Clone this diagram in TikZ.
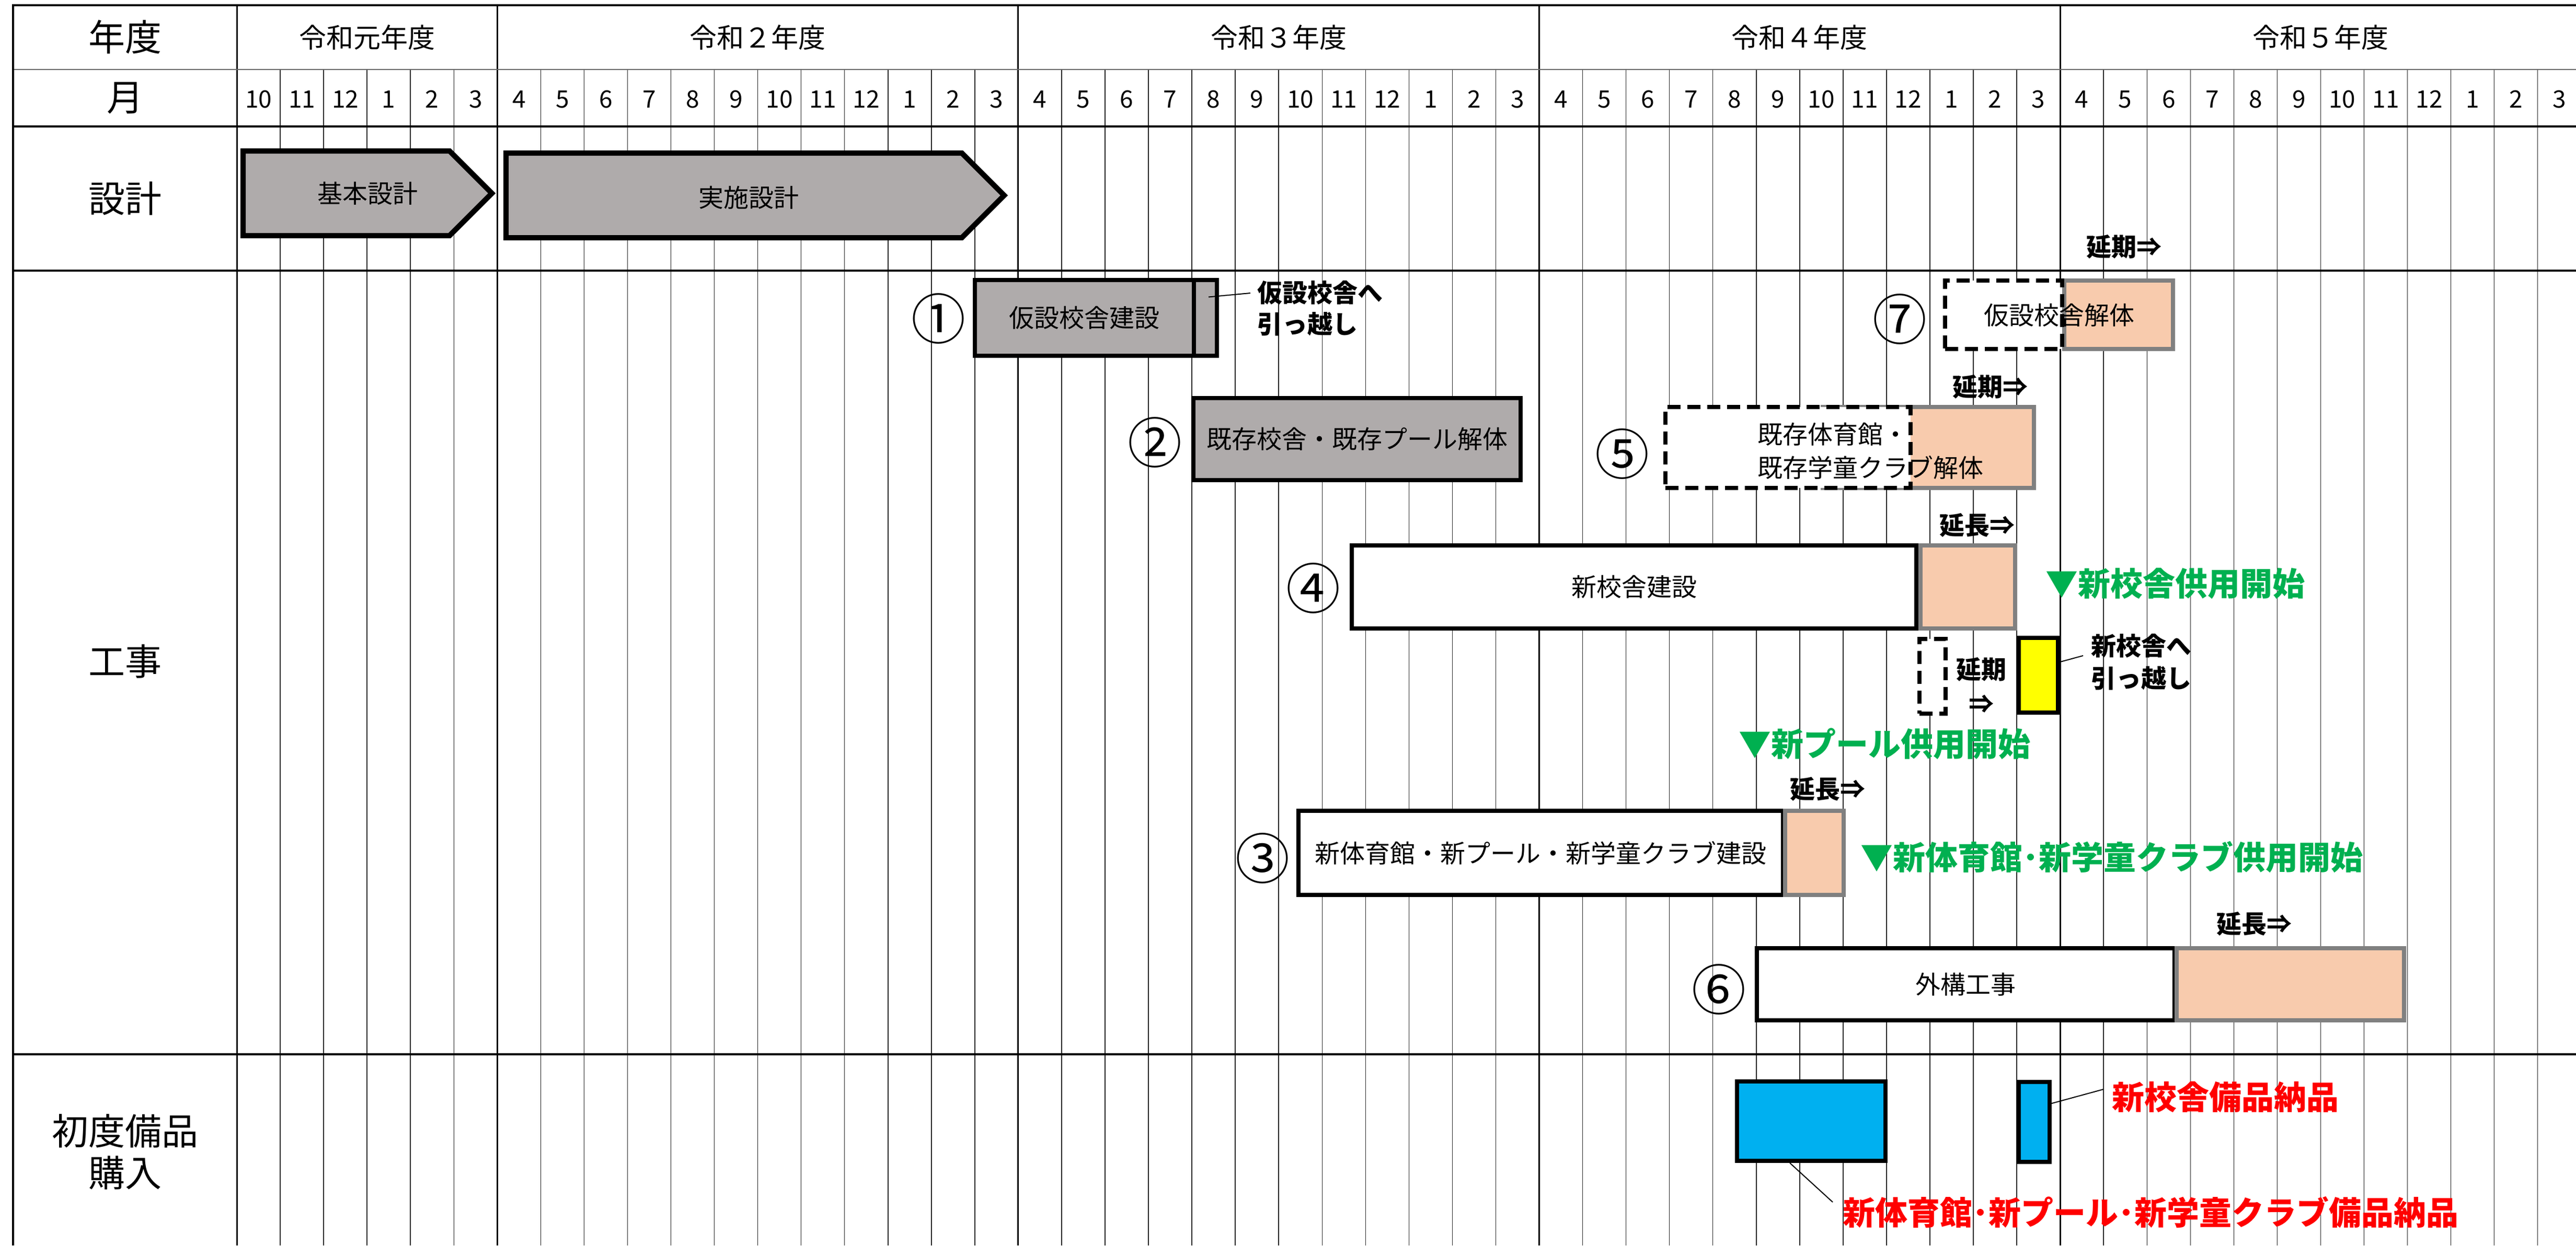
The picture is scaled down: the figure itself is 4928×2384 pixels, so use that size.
\documentclass[tikz,border=0pt]{standalone}
\usepackage{fontspec}
\setmainfont{Noto Sans CJK JP}
\usetikzlibrary{shapes.symbols}
\definecolor{barGray}{RGB}{175,171,171}
\definecolor{extFill}{RGB}{248,203,173}
\definecolor{extEdge}{RGB}{128,128,128}
\definecolor{moveYellow}{RGB}{255,255,0}
\definecolor{buyBlue}{RGB}{0,176,240}
\definecolor{openGreen}{RGB}{0,176,80}
\definecolor{buyRed}{RGB}{255,0,0}
\begin{document}
\begin{tikzpicture}[x=0.5pt,y=-0.5pt,
    frame/.style={line width=2.25pt},
    yearline/.style={line width=1.5pt},
    monthline/.style={line width=0.75pt,black!85},
    head/.style={inner sep=0pt,align=center,font=\fontsize{35}{40}\selectfont},
    yearlbl/.style={inner sep=0pt,font=\fontsize{26}{30}\selectfont},
    mon/.style={inner sep=0pt,font=\fontsize{23}{26}\selectfont},
    plan/.style={signal,signal to=east,draw=black,fill=barGray,line width=5pt,inner sep=0pt},
    bar/.style={draw=black,line width=4pt,inner sep=0pt,font=\fontsize{24}{28}\selectfont},
    ext/.style={draw=extEdge,fill=extFill,line width=4pt,inner sep=0pt},
    later/.style={draw=black,fill=white,line width=4pt,inner sep=0pt,
        dash pattern=on 12.5pt off 6.5pt},
    boxtxt/.style={inner sep=0pt,font=\fontsize{24}{32}\selectfont},
    num/.style={inner sep=0pt,font=\fontsize{52}{56}\selectfont},
    note/.style={inner sep=0pt,font=\fontsize{24}{30}\selectfont\bfseries},
    open/.style={inner sep=0pt,anchor=west,text=openGreen,font=\fontsize{31}{36}\selectfont\bfseries},
    deliv/.style={inner sep=0pt,anchor=west,text=buyRed,font=\fontsize{31}{36}\selectfont\bfseries},
    lead/.style={line width=1pt}]

    \useasboundingbox (0,0) rectangle (4928,2384);
    \clip (0,0) rectangle (4928,2384);

    % grid
    \foreach \i in {1,...,53}
      \draw[monthline] ({453+83.05*\i},133) -- ({453+83.05*\i},2384);
    \foreach \i in {0,6,18,30,42}
      \draw[yearline] ({453+83.05*\i},10) -- ({453+83.05*\i},2384);
    \draw[line width=1pt,black!60] (25,133) -- (4928,133);
    \draw[frame] (25,10) -- (4928,10);
    \draw[frame] (25,242) -- (4928,242);
    \draw[frame] (25,518) -- (4928,518);
    \draw[frame] (25,2018) -- (4928,2018);
    \draw[frame] (25,8) -- (25,2384);

    % the heads
    \node[head] (hYear) at (239,71) {年度};
    \node[head] (hMonth) at (239,188) {月};
    \node[head] (hPlan) at (239,380) {設計};
    \node[head] (hWork) at (239,1266) {工事};
    \node[head] (hBuy) at (239,2205) {初度備品\\購入};

    \foreach \a/\b/\t [count=\k] in {0/6/令和元年度,6/18/令和２年度,18/30/令和３年度,
        30/42/令和４年度,42/54/令和５年度}
      \node[yearlbl] (yr\k) at ({453+83.05*(\a+\b)/2},72) {\t};
    \foreach \m [count=\i from 0] in {10,11,12,1,2,3}
      \node[mon] (mo\i) at ({453+83.05*(\i+0.5)},190) {\m};
    \foreach \y in {0,...,3}
      \foreach \m [count=\i from 0] in {4,5,6,7,8,9,10,11,12,1,2,3}
        \node[mon] (mo\y-\i) at ({453+83.05*(6+12*\y+\i+0.5)},190) {\m};

    % design
    \node[plan,minimum width=238pt,minimum height=81pt] (basic) at (662.5,370) {};
    \node[boxtxt] (basicTxt) at (703,370) {基本設計};
    \node[plan,minimum width=476.5pt,minimum height=81pt] (detail) at (1404,374) {};
    \node[boxtxt] (detailTxt) at (1432,378) {実施設計};

    % works
    \node[bar,fill=barGray,minimum width=209.5pt,minimum height=72.5pt] (tempBuild) at (2074.5,608.5) {仮設校舎建設};
    \node[bar,fill=barGray,minimum width=22pt,minimum height=72.5pt] (tempMove) at (2306,608.5) {};
    \node[num] (n1) at (1795,610) {①};
    \node[note,anchor=west,align=left] (tempMoveNote) at (2405,590) {仮設校舎へ\\引っ越し};
    \draw[lead] ([xshift=3pt,yshift=20pt]tempMove.center) -- ([xshift=-6.5pt,yshift=14.5pt]tempMoveNote.west);

    \node[bar,fill=barGray,minimum width=313pt,minimum height=78.5pt] (oldDemo) at (2596,840) {既存校舎・既存プール解体};
    \node[num] (n2) at (2209,847) {②};

    \node[ext,minimum width=104pt,minimum height=65.5pt] (tempDemoExt) at (4053,602.5) {};
    \node[later,minimum width=112pt,minimum height=65.5pt] (tempDemo) at (3833,602.5) {};
    \node[boxtxt] (tempDemoTxt) at (3939,603) {仮設校舎解体};
    \node[num] (n7) at (3634,611) {⑦};
    \node[note] (delay7) at (4063,472) {延期⇒};

    \node[ext,minimum width=202pt,minimum height=77.5pt] (gymDemoExt) at (3689,856.5) {};
    \node[later,minimum width=234.5pt,minimum height=77.5pt] (gymDemo) at (3420.5,856.5) {};
    \node[boxtxt,anchor=west,align=left] (gymDemoTxt) at (3362,863) {既存体育館・\\既存学童クラブ解体};
    \node[num] (n5) at (3103,869) {⑤};
    \node[note] (delay5) at (3807,740) {延期⇒};

    \node[bar,fill=white,minimum width=540pt,minimum height=79.5pt] (newSchool) at (3126,1123.5) {新校舎建設};
    \node[ext,minimum width=90.5pt,minimum height=79.5pt] (newSchoolExt) at (3764.5,1123.5) {};
    \node[num] (n4) at (2512,1126) {④};
    \node[note] (ext4) at (3782,1005) {延長⇒};
    \node[open] (open4) at (3913,1117) {▼新校舎供用開始};

    \node[later,minimum width=25pt,minimum height=71.5pt] (moveLater) at (3697,1294.5) {};
    \node[note,align=center,font=\fontsize{24}{33}\selectfont\bfseries] (moveDelay) at (3790,1312) {延期\\⇒};
    \node[bar,fill=moveYellow,minimum width=37.5pt,minimum height=71.5pt] (newMove) at (3899.5,1292.5) {};
    \node[note,anchor=west,align=left,font=\fontsize{24}{31}\selectfont\bfseries] (newMoveNote) at (4000,1267) {新校舎へ\\引っ越し};
    \draw[lead] ([yshift=12.75pt]newMove.east) -- ([xshift=-7.5pt,yshift=6pt]newMoveNote.west);

    \node[open] (openPool) at (3326,1424) {▼新プール供用開始};

    \node[bar,fill=white,minimum width=463.5pt,minimum height=80.5pt] (newGym) at (2947.5,1632.5) {新体育館・新プール・新学童クラブ建設};
    \node[ext,minimum width=56pt,minimum height=80.5pt] (newGymExt) at (3471,1632.5) {};
    \node[num] (n3) at (2415,1643) {③};
    \node[note] (ext3) at (3496,1510) {延長⇒};
    \node[open] (open3) at (3559,1640) {▼新体育館･新学童クラブ供用開始};

    \node[bar,fill=white,minimum width=399.5pt,minimum height=69pt] (outside) at (3760.5,1884) {外構工事};
    \node[ext,minimum width=217.5pt,minimum height=69pt] (outsideExt) at (4381.5,1884) {};
    \node[num] (n6) at (3288,1894) {⑥};
    \node[note] (ext6) at (4312,1768) {延長⇒};

    % purchase
    \node[bar,fill=buyBlue,minimum width=142pt,minimum height=76pt] (buyGym) at (3465,2146) {};
    \node[bar,fill=buyBlue,minimum width=29.5pt,minimum height=76.5pt] (buySchool) at (3891.5,2147.5) {};
    \node[deliv] (buySchoolNote) at (4040,2100) {新校舎備品納品};
    \node[deliv] (buyGymNote) at (3525,2320) {新体育館･新プール･新学童クラブ備品納品};
    \draw[lead] ([yshift=17.75pt]buySchool.east) -- ([xshift=-8pt,yshift=7.5pt]buySchoolNote.west);
    \draw[lead] ([xshift=-20.5pt]buyGym.south) -- ([xshift=-9.5pt,yshift=9.5pt]buyGymNote.west);

  \end{tikzpicture}
\end{document}
